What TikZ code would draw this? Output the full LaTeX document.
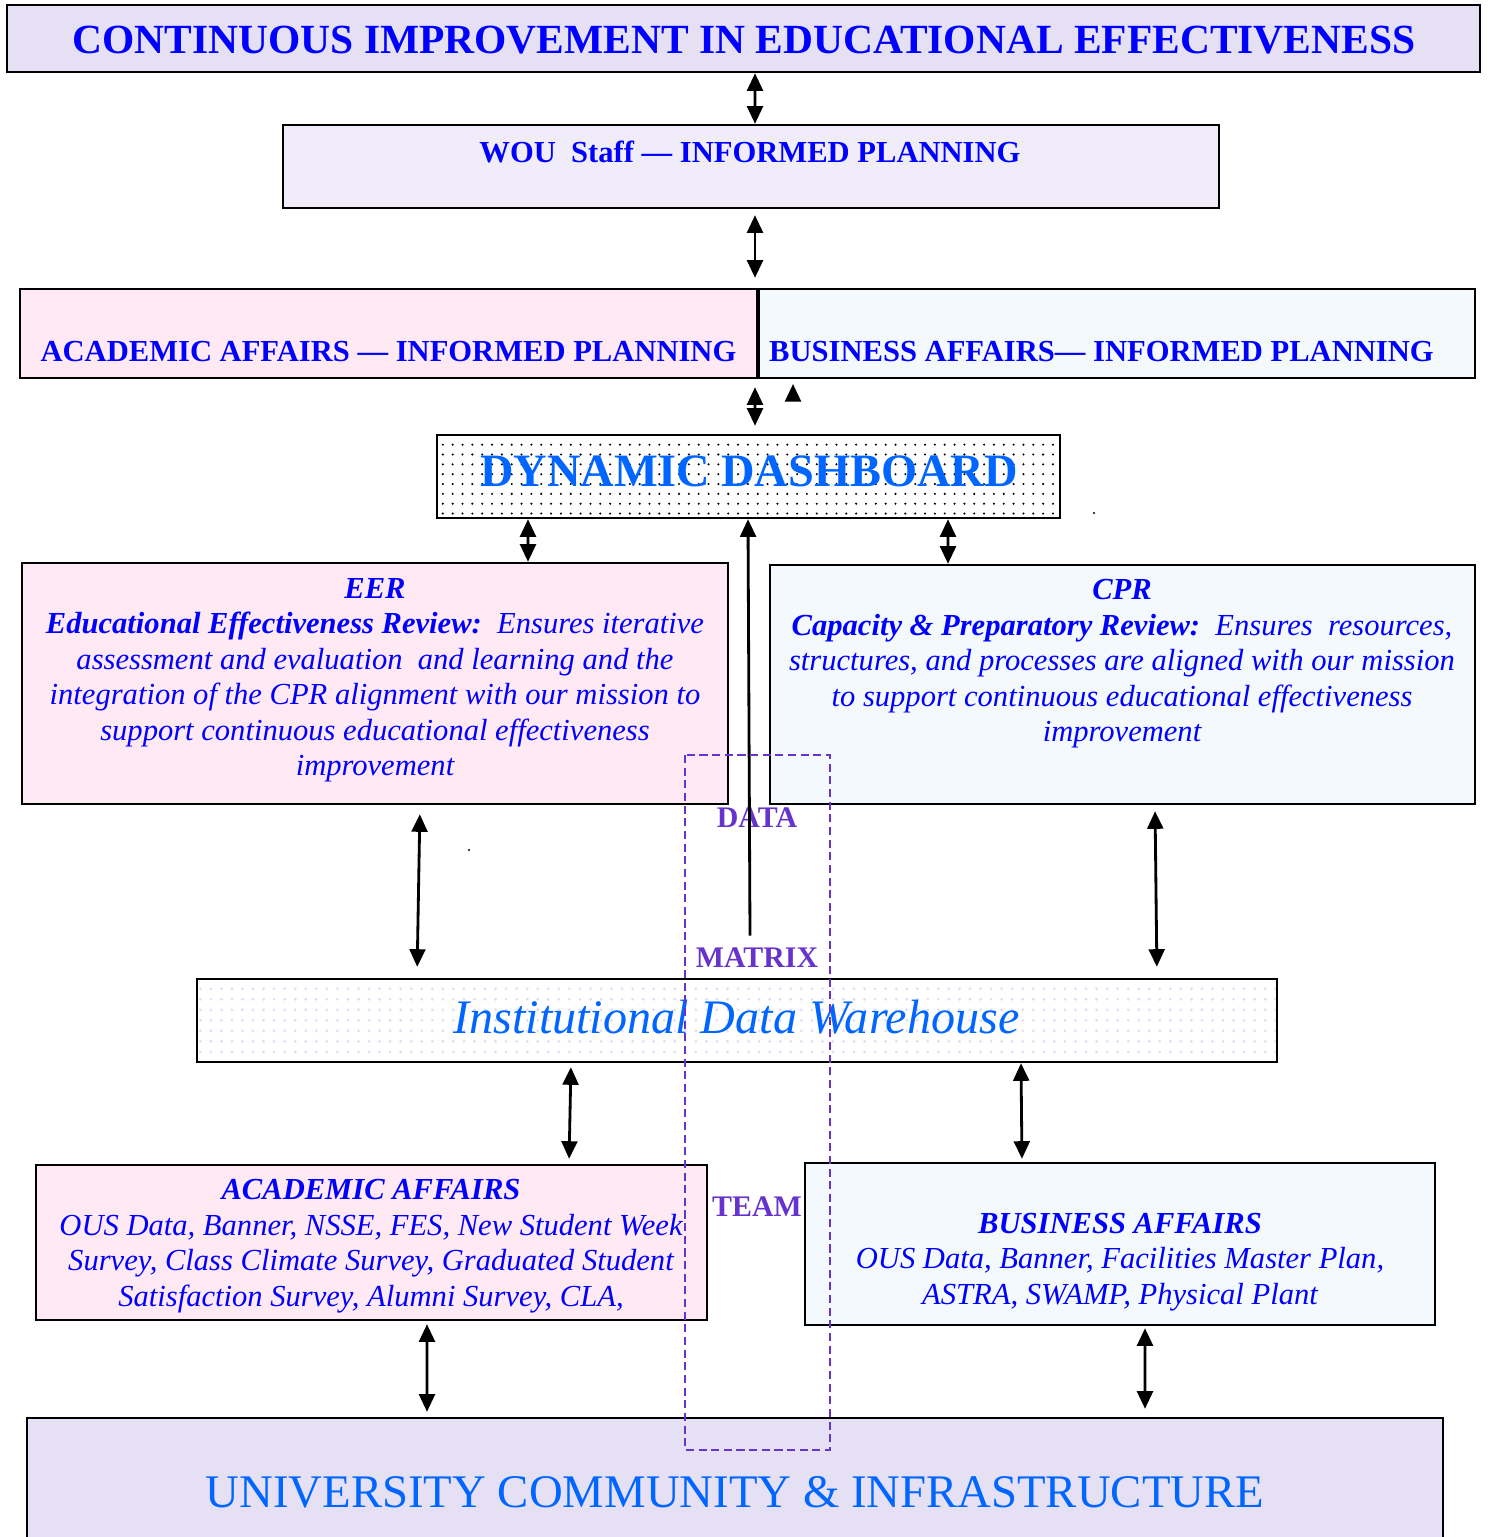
\documentclass[tikz,border=0pt]{standalone}
\usepackage{fontspec}
\setmainfont{Liberation Serif}
\usetikzlibrary{arrows.meta}
\usetikzlibrary{patterns.meta}
\definecolor{ttlblue}{HTML}{0000FF}
\definecolor{dashblue}{HTML}{0066FF}
\definecolor{mxpurple}{HTML}{6633CC}
\definecolor{lavtop}{HTML}{E6E0F5}
\definecolor{lavstaff}{HTML}{F0ECF9}
\definecolor{acpink}{HTML}{FFE9F4}
\definecolor{bzblue}{HTML}{F4F9FE}
\definecolor{lavdots}{HTML}{E2DEF3}
\begin{document}
\begin{tikzpicture}[x=0.1mm,y=-0.1mm,
	box/.style={draw,line width=0.7pt,inner sep=0pt},
	hd/.style={text=ttlblue,font=\fontsize{8.7}{10}\selectfont\bfseries},
	txt/.style={text=ttlblue,align=center,font=\fontsize{8.7}{10.1}\selectfont\itshape},
	mx/.style={text=mxpurple,font=\fontsize{8.5}{10}\selectfont\bfseries},
	big/.style={text=dashblue,font=\fontsize{13.4}{16}\selectfont},
	arr/.style={{Triangle[width=4.5pt,length=5pt]}-{Triangle[width=4.5pt,length=5pt]},line width=0.8pt},
	sarr/.style={-{Triangle[width=4.5pt,length=5pt]},line width=0.8pt}]
	\useasboundingbox (0,0) rectangle (1489,1537);
	% boxes
	\node[box,fill=lavtop,minimum width=147.3mm,minimum height=6.7mm] (CI) at (743.5,38.5){};
	\node[box,fill=lavstaff,minimum width=93.6mm,minimum height=8.3mm] (WS) at (751,166.5){};
	\node[box,fill=acpink,minimum width=73.7mm,minimum height=8.9mm] (AA) at (388.5,333.5){};
	\node[box,fill=bzblue,minimum width=71.6mm,minimum height=8.9mm] (BA) at (1117,333.5){};
	\node[box,preaction={fill=white},pattern={Dots[distance=2.8pt,radius=0.33pt]},minimum width=62.3mm,minimum height=8.3mm] (DD) at (748.5,476.5){};
	\node[box,fill=acpink,minimum width=70.6mm,minimum height=24.1mm] (EER) at (375,683.5){};
	\node[box,fill=bzblue,minimum width=70.5mm,minimum height=23.9mm] (CPR) at (1122.5,684.5){};
	\node[box,preaction={fill=white},pattern={Dots[distance=3pt,radius=0.45pt]},pattern color=lavdots,minimum width=108mm,minimum height=8.3mm] (IDW) at (737,1020.5){};
	\node[box,fill=acpink,minimum width=67.1mm,minimum height=15.5mm] (AAd) at (371.5,1242.5){};
	\node[box,fill=bzblue,minimum width=63mm,minimum height=16.2mm] (BAd) at (1120,1244){};
	\node[box,fill=lavtop,minimum width=141.6mm,minimum height=13.2mm] (UC) at (735,1484){};
	% texts
	\node[text=ttlblue,font=\fontsize{11.8}{14}\selectfont\bfseries] (CIt) at (744,40){CONTINUOUS IMPROVEMENT IN EDUCATIONAL EFFECTIVENESS};
	\node[hd] (WSt) at (750,152){WOU\ \ Staff --- INFORMED PLANNING};
	\node[hd] (AAt) at (388.5,352){ACADEMIC AFFAIRS --- INFORMED PLANNING};
	\node[hd] (BAt) at (1101.5,352){BUSINESS AFFAIRS--- INFORMED PLANNING};
	\node[text=dashblue,font=\fontsize{13.2}{16}\selectfont\bfseries] (DDt) at (749,471){DYNAMIC DASHBOARD};
	\node[txt] (EERt) at (375,680){{\bfseries EER}\\{\bfseries Educational Effectiveness Review:}\ \ Ensures iterative\\assessment and evaluation\ \ and learning and the\\integration of the CPR alignment with our mission to\\support continuous educational effectiveness\\improvement};
	\node[txt] (CPRt) at (1122,664){{\bfseries CPR}\\{\bfseries Capacity \& Preparatory Review:}\ \ Ensures\ \ resources,\\structures, and processes are aligned with our mission\\to support continuous educational effectiveness\\improvement};
	\node[big,font=\fontsize{13.7}{16}\selectfont\itshape] (IDWt) at (736.5,1017){Institutional Data Warehouse};
	\node[txt] (AAdt) at (371,1246){{\bfseries ACADEMIC AFFAIRS}\\OUS Data, Banner, NSSE, FES, New Student Week\\Survey, Class Climate Survey, Graduated Student\\Satisfaction Survey, Alumni Survey, CLA,};
	\node[txt] (BAdt) at (1120,1262){{\bfseries BUSINESS AFFAIRS}\\OUS Data, Banner, Facilities Master Plan,\\ASTRA, SWAMP, Physical Plant};
	\node[big,font=\fontsize{13.3}{16}\selectfont] (UCt) at (735,1492){UNIVERSITY COMMUNITY \& INFRASTRUCTURE};
	\node[mx] (DT) at (757,818){DATA};
	\node[mx] (MX) at (757,958){MATRIX};
	\node[mx] (TM) at (757,1207){TEAM};
	% arrows
	\draw ([xshift=1.15mm]CI.south) edge[arr] ([xshift=0.4mm]WS.north)
	([xshift=0.4mm]WS.south) edge[arr,shorten <=0.6mm,shorten >=1mm] ([xshift=0.4mm]WS.south |- BA.north)
	([xshift=0.4mm]WS.south |- AA.south) edge[arr,shorten <=0.8mm,shorten >=0.8mm] ([xshift=0.65mm]DD.north)
	([xshift=-22.05mm]DD.south) edge[arr] ([xshift=15.3mm]EER.north)
	([xshift=19.95mm]DD.south) edge[arr] ([xshift=-17.45mm]CPR.north)
	([xshift=4.5mm]EER.south) edge[arr,shorten <=0.9mm,shorten >=1.1mm] ([xshift=-32mm]IDW.north)
	([xshift=3.25mm]CPR.south) edge[arr,shorten <=0.6mm,shorten >=1.1mm] ([xshift=42mm]IDW.north)
	([xshift=-16.6mm]IDW.south) edge[arr,shorten <=0.4mm,shorten >=0.5mm] ([xshift=19.75mm]AAd.north)
	([xshift=28.4mm]IDW.south) edge[arr,shorten >=0.3mm] ([xshift=-9.8mm]BAd.north)
	([xshift=5.55mm]AAd.south) edge[arr,shorten <=0.3mm,shorten >=0.5mm] ([xshift=-30.8mm]UC.north)
	([xshift=2.5mm]BAd.south) edge[arr,shorten <=0.2mm,shorten >=0.8mm] ([xshift=41mm]UC.north);
	\draw[sarr] ([xshift=-0.7mm]MX.north) -- ([xshift=-0.05mm]DD.south);
	\draw[sarr] (793,400) -- (793,384);
	\fill (469,850) circle (0.12mm) (1094,513) circle (0.12mm);
	% team frame
	\draw[mxpurple,line width=0.5pt,dash pattern=on 2.3pt off 1.3pt] (685,755) rectangle (830,1450);
\end{tikzpicture}
\end{document}
